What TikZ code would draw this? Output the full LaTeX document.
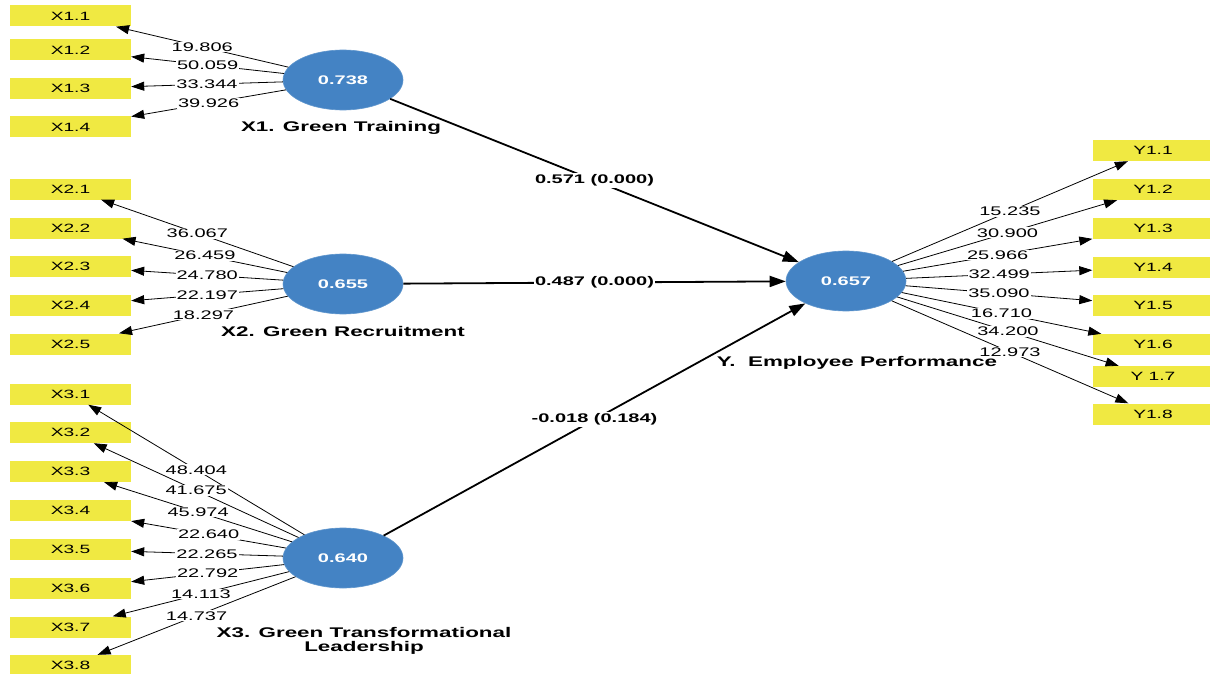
\documentclass[tikz,border=0pt]{standalone}
\usepackage{fontspec}
\setmainfont{Liberation Sans}[FakeStretch=1.6]
\usetikzlibrary{shapes.geometric,arrows.meta}
\definecolor{lvblue}{RGB}{68,131,196}
\definecolor{mvyellow}{RGB}{240,233,66}
\tikzset{
  lv/.style={ellipse, fill=lvblue, draw=lvblue!85!white, line width=0.6pt, minimum width=120pt, minimum height=60pt, inner sep=0pt, text=white, font=\bfseries\fontsize{12.5}{14}\selectfont},
  mv/.style={rectangle, fill=mvyellow, minimum width=121pt, minimum height=21pt, inner sep=0pt, font=\fontsize{12}{14}\selectfont},
  loadarrow/.style={draw, line width=0.8pt, -{Triangle[length=13pt,width=9pt]}},
  structarrow/.style={draw, line width=1.8pt, -{Triangle[length=16pt,width=11pt]}},
  lbl/.style={fill=white, inner sep=1pt, font=\fontsize{12.5}{14}\selectfont},
  slbl/.style={fill=white, inner sep=1.5pt, font=\bfseries\fontsize{12.5}{14}\selectfont},
  cname/.style={inner sep=0pt, font=\bfseries\fontsize{14}{13.5}\selectfont, align=center}
}
\begin{document}
\begin{tikzpicture}[x=1pt,y=-1pt]
\useasboundingbox[fill=white] (0,0) rectangle (1210,674);

% latent variables
\node[lv] (X1) at (343,80) {0.738};
\node[lv] (X2) at (343,284) {0.655};
\node[lv] (X3) at (343,558) {0.640};
\node[lv] (Y) at (846,281) {0.657};

% indicators X1
\node[mv] (x11) at (70.5,16) {X1.1};
\node[mv] (x12) at (70.5,50) {X1.2};
\node[mv] (x13) at (70.5,88.5) {X1.3};
\node[mv] (x14) at (70.5,127) {X1.4};
% indicators X2
\node[mv] (x21) at (70.5,189) {X2.1};
\node[mv] (x22) at (70.5,228) {X2.2};
\node[mv] (x23) at (70.5,266.5) {X2.3};
\node[mv] (x24) at (70.5,305.5) {X2.4};
\node[mv] (x25) at (70.5,344) {X2.5};
% indicators X3
\node[mv] (x31) at (70.5,394) {X3.1};
\node[mv] (x32) at (70.5,432.5) {X3.2};
\node[mv] (x33) at (70.5,471.5) {X3.3};
\node[mv] (x34) at (70.5,510.5) {X3.4};
\node[mv] (x35) at (70.5,549.5) {X3.5};
\node[mv] (x36) at (70.5,588.5) {X3.6};
\node[mv] (x37) at (70.5,627) {X3.7};
\node[mv] (x38) at (70.5,665.5) {X3.8};
% indicators Y
\node[mv] (y1) at (1153,150.5) {Y1.1};
\node[mv] (y2) at (1153,189.5) {Y1.2};
\node[mv] (y3) at (1153,228.5) {Y1.3};
\node[mv] (y4) at (1153,267.5) {Y1.4};
\node[mv] (y5) at (1153,305.5) {Y1.5};
\node[mv] (y6) at (1153,344.5) {Y1.6};
\node[mv] (y7) at (1153,376.5) {Y 1.7};
\node[mv] (y8) at (1153,414) {Y1.8};

% outer loadings X1
\draw[loadarrow] (X1) -- node[lbl]{19.806} (x11);
\draw[loadarrow] (X1) -- node[lbl]{50.059} (x12);
\draw[loadarrow] (X1) -- node[lbl]{33.344} (x13);
\draw[loadarrow] (X1) -- node[lbl]{39.926} (x14);
% outer loadings X2
\draw[loadarrow] (X2) -- node[lbl]{36.067} (x21);
\draw[loadarrow] (X2) -- node[lbl]{26.459} (x22);
\draw[loadarrow] (X2) -- node[lbl]{24.780} (x23);
\draw[loadarrow] (X2) -- node[lbl]{22.197} (x24);
\draw[loadarrow] (X2) -- node[lbl]{18.297} (x25);
% outer loadings X3
\draw[loadarrow] (X3) -- node[lbl]{48.404} (x31);
\draw[loadarrow] (X3) -- node[lbl]{41.675} (x32);
\draw[loadarrow] (X3) -- node[lbl]{45.974} (x33);
\draw[loadarrow] (X3) -- node[lbl]{22.640} (x34);
\draw[loadarrow] (X3) -- node[lbl]{22.265} (x35);
\draw[loadarrow] (X3) -- node[lbl]{22.792} (x36);
\draw[loadarrow] (X3) -- node[lbl]{14.113} (x37);
\draw[loadarrow] (X3) -- node[lbl]{14.737} (x38);
% outer loadings Y
\draw[loadarrow] (Y) -- node[lbl]{15.235} (y1);
\draw[loadarrow] (Y) -- node[lbl]{30.900} (y2);
\draw[loadarrow] (Y) -- node[lbl]{25.966} (y3);
\draw[loadarrow] (Y) -- node[lbl]{32.499} (y4);
\draw[loadarrow] (Y) -- node[lbl]{35.090} (y5);
\draw[loadarrow] (Y) -- node[lbl]{16.710} (y6);
\draw[loadarrow] (Y) -- node[lbl]{34.200} (y7);
\draw[loadarrow] (Y) -- node[lbl]{12.973} (y8);

% structural paths
\draw[structarrow] (X1) -- node[slbl]{0.571 (0.000)} (Y);
\draw[structarrow] (X2) -- node[slbl]{0.487 (0.000)} (Y);
\draw[structarrow] (X3) -- node[slbl]{-0.018 (0.184)} (Y);

% construct names (on top)
\node[cname] (nX1) at (341,128) {X1. Green Training};
\node[cname] (nX2) at (343,331) {X2. Green Recruitment};
\node[cname] (nX3) at (364,641) {X3. Green Transformational\\Leadership};
\node[cname] (nY) at (857,363) {Y.\ \ Employee Performance};
\end{tikzpicture}
\end{document}
